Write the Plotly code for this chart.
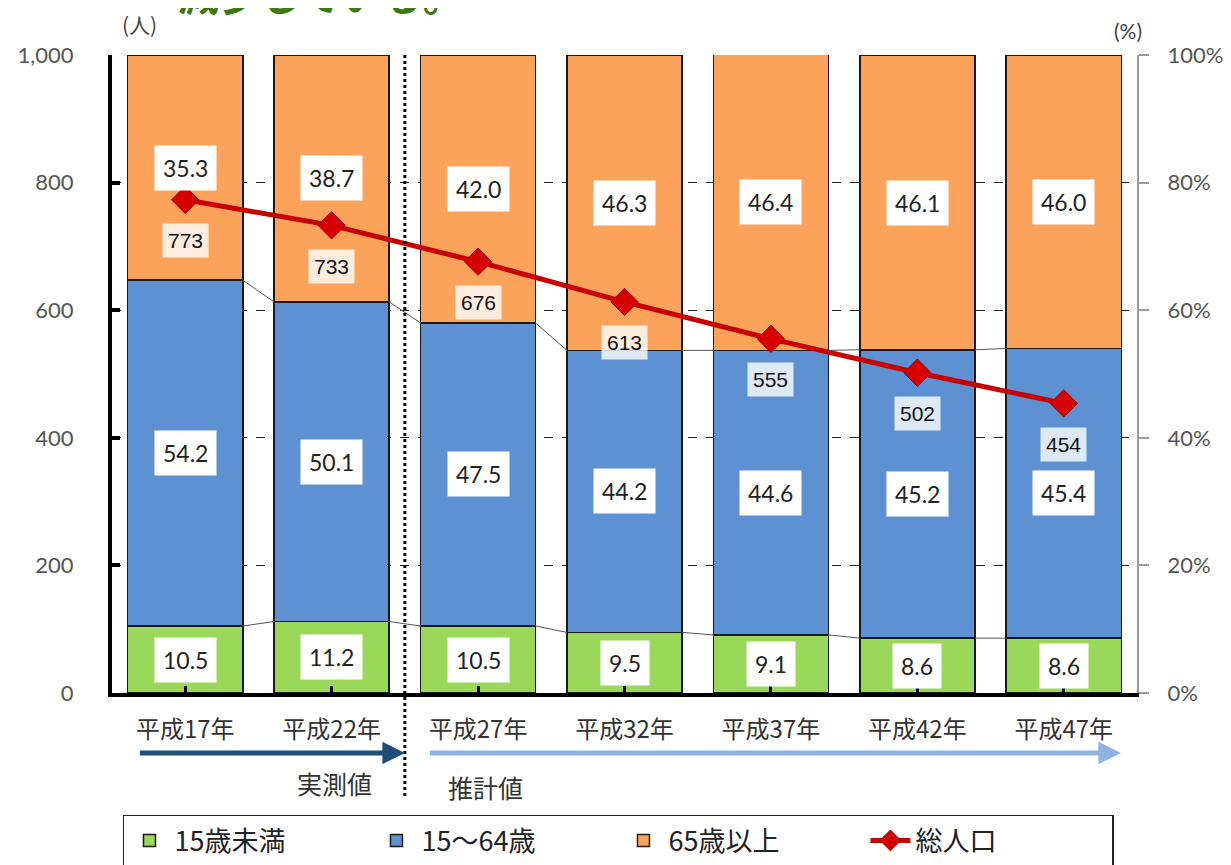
import plotly.graph_objects as go

# ---- data ----
categories = ["平成17年", "平成22年", "平成27年", "平成32年", "平成37年", "平成42年", "平成47年"]
under15 = [10.5, 11.2, 10.5, 9.5, 9.1, 8.6, 8.6]
age15_64 = [54.2, 50.1, 47.5, 44.2, 44.6, 45.2, 45.4]
over65 = [35.3, 38.7, 42.0, 46.3, 46.4, 46.1, 46.0]
total_pop = [773, 733, 676, 613, 555, 502, 454]
series_names = ["15歳未満", "15～64歳", "65歳以上", "総人口"]
left_ticks = [0, 200, 400, 600, 800, 1000]
left_tick_text = ["0", "200", "400", "600", "800", "1,000"]
right_ticks = [0, 20, 40, 60, 80, 100]
right_tick_text = ["0%", "20%", "40%", "60%", "80%", "100%"]

# ---- style ----
GREEN = "#9ad85a"
BLUE = "#5d91d2"
ORANGE = "#fba35a"
RED = "#c80000"
BARGAP = 0.214
NUMFONT = "Lato, 'DejaVu Sans', sans-serif"
JPFONT = "'Noto Sans CJK JP', sans-serif"
LABFONT = "'Liberation Sans', Arial, sans-serif"

x = list(range(len(categories)))

fig = go.Figure()
bar_line = dict(color="#1a1a1a", width=1.5)
for vals, name, col in [(under15, series_names[0], GREEN),
                        (age15_64, series_names[1], BLUE),
                        (over65, series_names[2], ORANGE)]:
    fig.add_trace(go.Bar(x=x, y=vals, name=name, marker=dict(color=col, line=bar_line),
                         yaxis="y", hoverinfo="skip"))

fig.add_trace(go.Scatter(x=x, y=total_pop, name=series_names[3], yaxis="y2",
                         mode="lines+markers",
                         line=dict(color=RED, width=5),
                         marker=dict(symbol="diamond", size=21, color="#d60000",
                                     line=dict(color="#a00000", width=1))))

annotations = []
shapes = []

def note(**kw):
    kw.setdefault("showarrow", False)
    kw.setdefault("xanchor", "center")
    kw.setdefault("yanchor", "middle")
    annotations.append(kw)

# percentage labels at segment centres
cum0 = [0.0] * len(x)
for vals in (under15, age15_64, over65):
    for i, v in enumerate(vals):
        note(x=i, y=cum0[i] + v / 2, xref="x", yref="y", text=f"{v:.1f}",
             font=dict(family=NUMFONT, size=23, color="#222"),
             bgcolor="white", borderpad=8)
    tops = [cum0[i] + vals[i] for i in range(len(x))]
    if vals is not over65:
        half = (1 - BARGAP) / 2
        for i in range(len(x) - 1):
            shapes.append(dict(type="line", xref="x", yref="y",
                               x0=i + half, x1=i + 1 - half, y0=tops[i], y1=tops[i + 1],
                               line=dict(color="#555", width=1)))
    cum0 = tops

# total population labels below markers
for i, v in enumerate(total_pop):
    note(x=i, y=v, xref="x", yref="y2", text=str(v), yshift=-41,
         font=dict(family=LABFONT, size=21, color="#111"),
         bgcolor="rgba(255,255,255,0.8)", borderpad=5)

# dotted divider between measured and projected values
shapes.append(dict(type="line", xref="x", yref="paper", x0=1.5, x1=1.5, y0=1.0, y1=-0.165,
                   line=dict(color="black", width=3, dash="dot")))

# arrows
annotations.append(dict(x=1.5, y=-0.094, xref="x", yref="paper", ax=-0.32, ay=0,
                        axref="x", ayref="pixel", showarrow=True, text="",
                        arrowhead=2, arrowsize=0.9, arrowwidth=5, arrowcolor="#1f4e79"))
annotations.append(dict(x=6.39, y=-0.094, xref="x", yref="paper", ax=1.66, ay=0,
                        axref="x", ayref="pixel", showarrow=True, text="",
                        arrowhead=2, arrowsize=0.9, arrowwidth=5, arrowcolor="#8fb3de"))
note(x=1.02, y=-0.141, xref="x", yref="paper", text="実測値",
     font=dict(family=JPFONT, size=25, color="#333"))
note(x=2.05, y=-0.147, xref="x", yref="paper", text="推計値",
     font=dict(family=JPFONT, size=25, color="#333"))

# unit labels
note(x=0.027, y=1.049, xref="paper", yref="paper", text="(人)",
     font=dict(family=JPFONT, size=21, color="#444"))
note(x=0.991, y=1.038, xref="paper", yref="paper", text="(%)",
     font=dict(family=NUMFONT, size=21, color="#444"))

# heading at top (only its lower part is visible in the reference)
note(x=0.204, y=1.097, xref="paper", yref="paper", text="<b>減少している。</b>",
     font=dict(family=JPFONT, size=41, color="#3a7a12"))

fig.update_layout(
    width=1223, height=857,
    margin=dict(l=104, r=94, t=47, b=172, autoexpand=False),
    paper_bgcolor="white", plot_bgcolor="white",
    barmode="stack", bargap=BARGAP,
    showlegend=True,
    legend=dict(orientation="h", x=0.0107, y=-0.191, xanchor="left", yanchor="top",
                bordercolor="#222", borderwidth=1.5, bgcolor="white",
                font=dict(family=JPFONT, size=27, color="#222"),
                entrywidth=192, entrywidthmode="pixels", itemwidth=40,
                traceorder="normal"),
    xaxis=dict(range=[-0.5, 6.5], tickmode="array", tickvals=x, ticktext=categories,
               tickfont=dict(family=JPFONT, size=24, color="#333"),
               showline=True, linecolor="black", linewidth=4,
               ticks="inside", tickson="boundaries", ticklen=7, tickwidth=3, tickcolor="black",
               ticklabelstandoff=12, showgrid=False, zeroline=False, fixedrange=True),
    yaxis=dict(range=[0, 100], side="right", tickmode="array", tickvals=right_ticks,
               ticktext=right_tick_text,
               tickfont=dict(family=NUMFONT, size=22, color="#555"),
               showline=True, linecolor="#999", linewidth=2,
               ticks="outside", ticklen=10, tickcolor="#999", tickwidth=1.5,
               ticklabelstandoff=14,
               showgrid=True, gridcolor="#222", griddash="dash", gridwidth=1,
               zeroline=False, fixedrange=True),
    yaxis2=dict(range=[0, 1000], overlaying="y", side="left", tickmode="array",
                tickvals=left_ticks, ticktext=left_tick_text,
                tickfont=dict(family=NUMFONT, size=22, color="#555"),
                showline=True, linecolor="black", linewidth=4,
                ticks="inside", ticklen=8, tickwidth=4, tickcolor="black",
                ticklabelstandoff=30, showgrid=False, zeroline=False, fixedrange=True),
    annotations=annotations,
    shapes=shapes,
)

fig.write_html("out.html")
